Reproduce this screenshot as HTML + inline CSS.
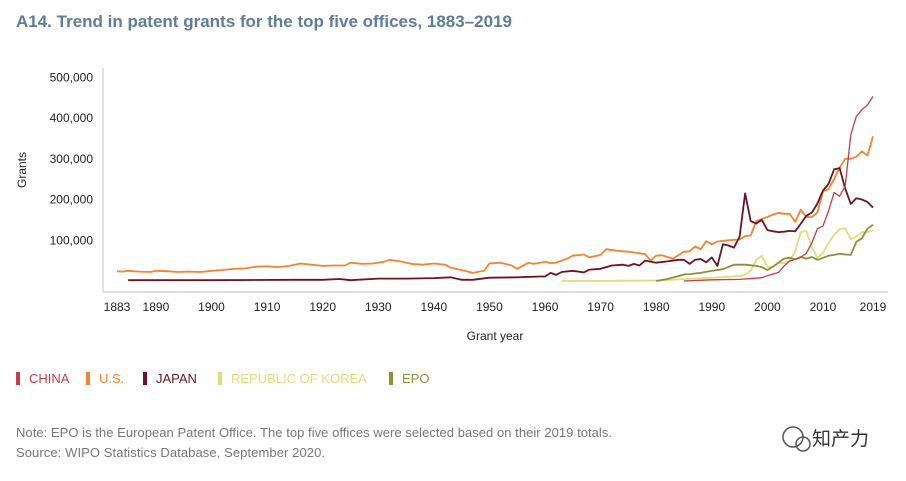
<!DOCTYPE html>
<html><head><meta charset="utf-8"><style>
body{margin:0;background:#fff;width:906px;height:476px;overflow:hidden;font-family:"Liberation Sans","Noto Sans CJK SC",sans-serif}
</style></head><body>
<svg width="906" height="476" font-family="Liberation Sans, Noto Sans CJK SC, sans-serif">
<text x="16" y="27" font-size="17" font-weight="bold" fill="#5d7d9a">A14. Trend in patent grants for the top five offices, 1883–2019</text>
<g id="yaxis"></g>
<g id="xaxis"></g>
<line x1="103" y1="68" x2="103" y2="292" stroke="#ccc" stroke-width="1.2"/>
<line x1="103" y1="292" x2="888" y2="292" stroke="#ccc" stroke-width="1.2"/>
<text transform="translate(26,170) rotate(-90)" text-anchor="middle" font-size="12" fill="#222">Grants</text>
<text x="495" y="340" text-anchor="middle" font-size="12" fill="#222">Grant year</text>
<g id="series"></g>
<g id="legend"></g>
<text x="16" y="437" font-size="13" fill="#777" textLength="596">Note: EPO is the European Patent Office. The top five offices were selected based on their 2019 totals.</text>
<text x="16" y="457" font-size="13" fill="#777" textLength="309">Source: WIPO Statistics Database, September 2020.</text>
<g>
<circle cx="793" cy="437" r="10" fill="none" stroke="#555" stroke-width="1.5"/>
<circle cx="803" cy="444" r="7" fill="none" stroke="#555" stroke-width="1.5"/>
<text x="812" y="445" font-size="19" fill="#333">知产力</text>
</g>
</svg>
<script>
const yTicks=[100000,200000,300000,400000,500000];
const yTickLabels=["100,000","200,000","300,000","400,000","500,000"];
const xTicks=[1883,1890,1900,1910,1920,1930,1940,1950,1960,1970,1980,1990,2000,2010,2019];
const usYears=[1883,1884,1885,1887,1889,1890,1892,1894,1896,1898,1900,1902,1904,1906,1908,1910,1912,1914,1916,1918,1920,1922,1924,1925,1927,1929,1931,1932,1934,1936,1938,1940,1942,1943,1945,1947,1949,1950,1952,1954,1955,1957,1958,1960,1961,1962,1964,1965,1967,1968,1970,1971,1973,1975,1977,1978,1979,1980,1981,1983,1985,1986,1987,1988,1989,1990,1991,1993,1995,1996,1997,1998,2000,2001,2002,2003,2004,2005,2006,2007,2008,2009,2010,2011,2012,2013,2014,2015,2016,2017,2018,2019];
const usValues=[24,23,25,23,22,25,24,22,23,22,25,27,30,31,35,36,34,37,43,40,37,38,38,45,42,43,47,52,48,42,40,43,40,33,27,20,25,43,45,38,30,45,42,47,44,45,55,62,65,58,64,78,74,72,68,66,50,62,63,55,72,73,85,78,98,90,97,100,102,110,112,147,157,163,167,165,165,145,175,157,157,168,220,225,250,278,300,300,305,318,308,355];
const jpYears=[1885,1900,1915,1920,1923,1925,1930,1935,1940,1943,1945,1947,1950,1955,1959,1960,1961,1962,1963,1965,1967,1968,1970,1972,1974,1975,1976,1977,1978,1980,1982,1984,1985,1986,1987,1988,1989,1990,1991,1992,1993,1994,1995,1996,1997,1998,1999,2000,2001,2002,2003,2004,2005,2006,2007,2008,2009,2010,2011,2012,2013,2014,2015,2016,2017,2018,2019];
const jpValues=[2,2,3,3,5,2,6,6,7,9,3,3,8,9,11,11,20,15,22,25,21,28,30,38,40,37,42,38,50,45,48,52,52,42,52,54,46,58,37,90,87,82,109,215,147,141,150,125,122,120,121,123,122,140,160,168,190,222,238,274,277,227,189,203,200,194,180];
const cnYears=[1985,1990,1995,1999,2000,2002,2003,2004,2005,2006,2007,2008,2009,2010,2011,2012,2013,2014,2015,2016,2017,2018,2019];
const cnValues=[0,3,4,8,13,21,37,49,53,58,68,94,128,135,172,217,208,233,359,404,420,432,453];
const krYears=[1963,1980,1990,1995,1996,1997,1998,1999,2000,2001,2002,2003,2004,2005,2006,2007,2008,2009,2010,2011,2012,2013,2014,2015,2016,2017,2018,2019];
const krValues=[0,1,8,12,16,25,52,62,35,34,45,44,49,73,120,123,83,57,69,94,113,127,129,102,109,120,120,125];
const epYears=[1980,1982,1984,1985,1986,1988,1990,1992,1994,1996,1998,1999,2000,2001,2002,2003,2004,2005,2006,2007,2008,2009,2010,2011,2012,2013,2014,2015,2016,2017,2018,2019];
const epValues=[0,5,12,16,17,20,25,29,40,40,37,34,27,35,45,55,57,53,59,55,59,52,57,62,64,67,65,64,96,105,128,138];
const seriesNames=["CHINA","U.S.","JAPAN","REPUBLIC OF KOREA","EPO"];
const seriesColors=["#c33d4c","#f38530","#6b1426","#dcdd7c","#8b9138"];
function xs(y){return 117+(y-1883)*(873-117)/136;}
function ys(v){return 281-v/100000*40.75;}
const NS="http://www.w3.org/2000/svg";
function mk(t,a){const e=document.createElementNS(NS,t);for(const k in a)e.setAttribute(k,a[k]);return e;}
const ya=document.getElementById('yaxis');
yTicks.forEach((t,i)=>{const e=mk('text',{x:93,y:ys(t)+4,'text-anchor':'end','font-size':12,fill:'#222'});


e.textContent=yTickLabels[i];ya.appendChild(e);});
const xa=document.getElementById('xaxis');
xTicks.forEach(t=>{const e=mk('text',{x:xs(t),y:311,'text-anchor':'middle','font-size':12,fill:'#222'});


e.textContent=t;xa.appendChild(e);});
const sg=document.getElementById('series');
const data=[[usYears,usValues,1],[jpYears,jpValues,2],[krYears,krValues,3],[epYears,epValues,4],[cnYears,cnValues,0]];
data.forEach(([yr,vals,ci])=>{const pts=yr.map((y,i)=>xs(y).toFixed(1)+','+ys(vals[i]*1000).toFixed(1)).join(' ');
const p=mk('polyline',{points:pts,fill:'none',stroke:seriesColors[ci],'stroke-width':ci==0?1.3:1.8,'stroke-linejoin':'round'});


sg.appendChild(p);});
const lg=document.getElementById('legend');
const lx=[16,86,143,218,389];
seriesNames.forEach((n,i)=>{const g=mk('g',{});


g.appendChild(mk('rect',{x:lx[i],y:372,width:4,height:13,fill:seriesColors[i]}));
const t=mk('text',{x:lx[i]+13,y:383,'font-size':13,fill:seriesColors[i]});t.textContent=n;g.appendChild(t);lg.appendChild(g);});
</script>
</body></html>
